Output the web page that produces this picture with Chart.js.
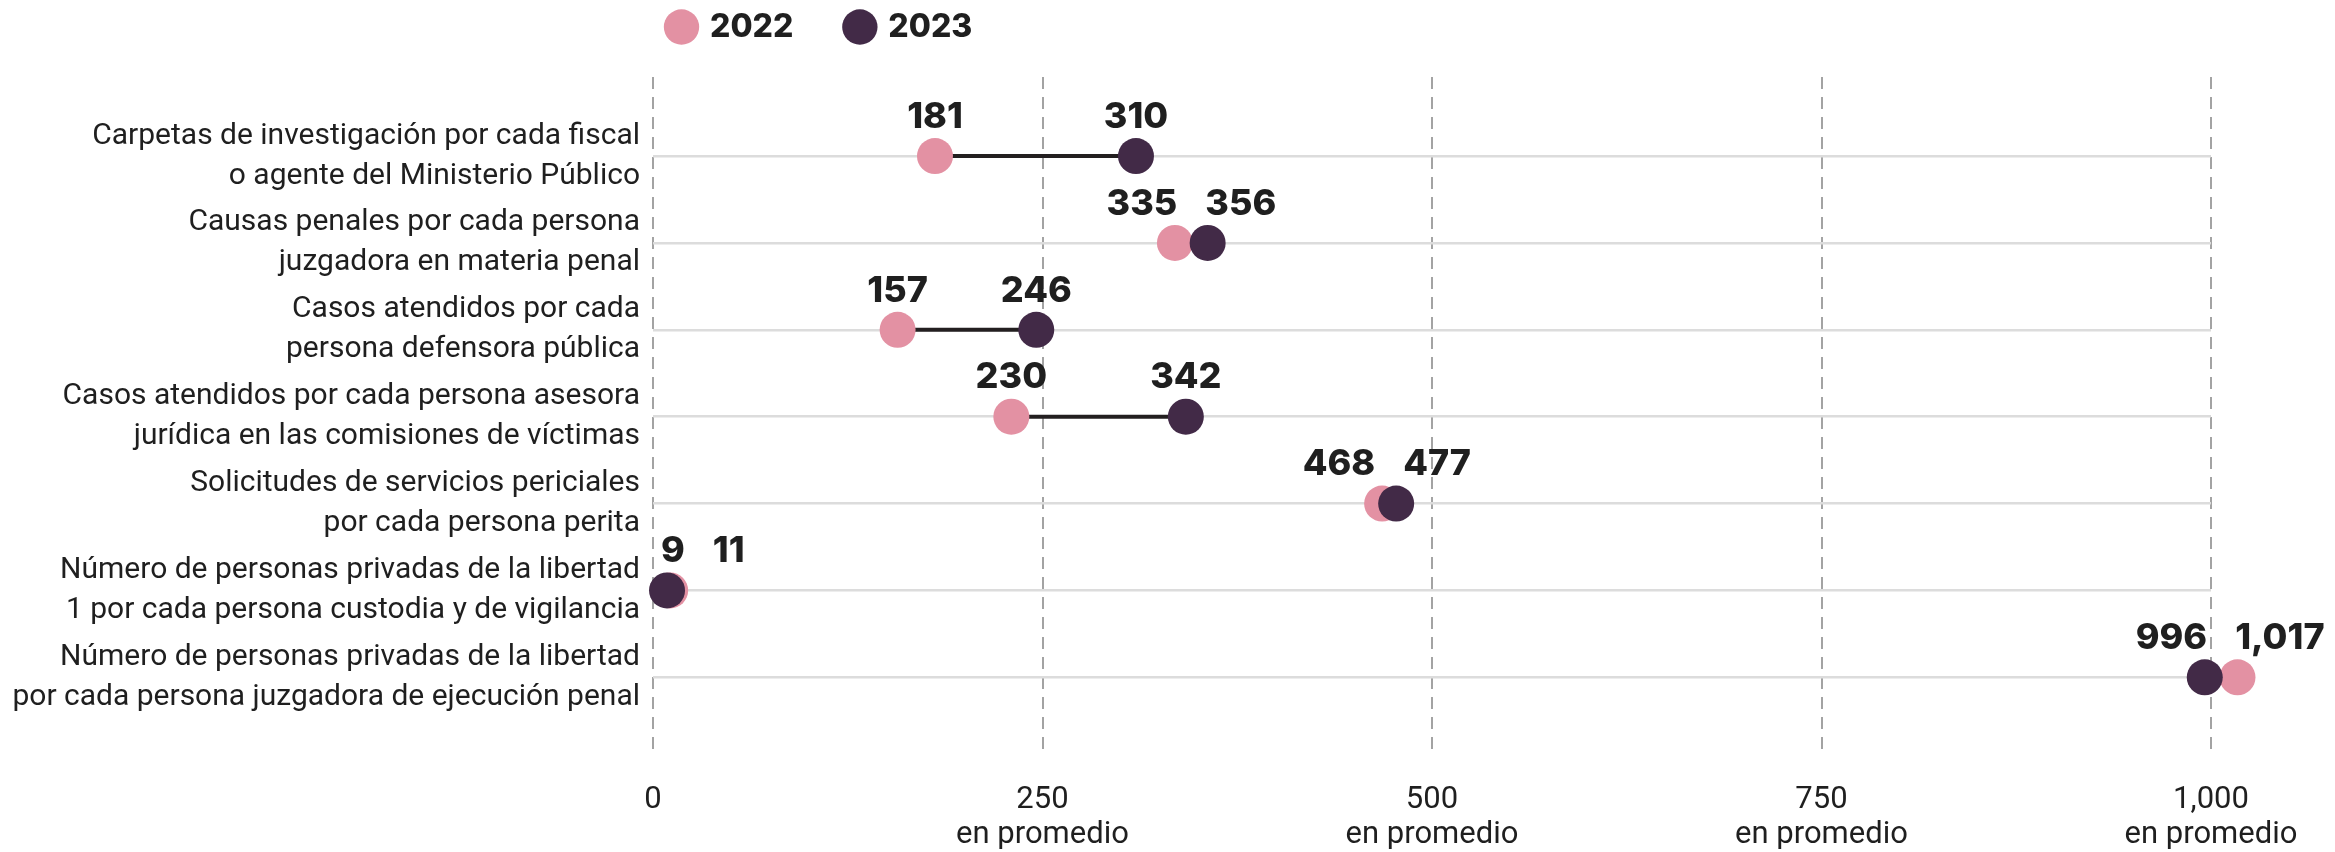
<!DOCTYPE html>
<html>
<head>
<meta charset="utf-8">
<script src="https://cdn.jsdelivr.net/npm/chart.js@4/dist/chart.umd.min.js"></script>
<style>
  body { margin: 0; background: #fff; }
  .wrap { width: 2335px; height: 852px; position: relative; }
</style>
</head>
<body>
<div class="wrap"><canvas id="dumbbellChart"></canvas></div>
<script>
// ---- data ----
const rowLabels = [
    ['Carpetas de investigación por cada fiscal', 'o agente del Ministerio Público'],
    ['Causas penales por cada persona', 'juzgadora en materia penal'],
    ['Casos atendidos por cada', 'persona defensora pública'],
    ['Casos atendidos por cada persona asesora', 'jurídica en las comisiones de víctimas'],
    ['Solicitudes de servicios periciales', 'por cada persona perita'],
    ['Número de personas privadas de la libertad', '1 por cada persona custodia y de vigilancia'],
    ['Número de personas privadas de la libertad', 'por cada persona juzgadora de ejecución penal']
];
const values2022 = [181, 335, 157, 230, 468, 11, 1017];
const values2023 = [310, 356, 246, 342, 477, 9, 996];
const xTicks = [0, 250, 500, 750, 1000];
const xTickSuffix = 'en promedio';

const PINK = '#e391a3';
const PLUM = '#422a47';
const INK = '#1f1f1f';

function toPoints(arr) {
    return arr.map((v, i) => ({ x: v, y: i }));
}
function fmt(v) {
    return v.toLocaleString('en-US');
}

// line between the two years on each row
const connectorPlugin = {
    id: 'connectors',
    beforeDatasetsDraw(chart) {
        const a = chart.getDatasetMeta(0).data;
        const b = chart.getDatasetMeta(1).data;
        const ctx = chart.ctx;
        ctx.save();
        ctx.strokeStyle = '#231f20';
        ctx.lineWidth = 4;
        a.forEach((p, i) => {
            ctx.beginPath();
            ctx.moveTo(p.x, p.y);
            ctx.lineTo(b[i].x, b[i].y);
            ctx.stroke();
        });
        ctx.restore();
    }
};

// dots past 1,000 sit outside the plot area; widen it while the dots are drawn
const overflowPlugin = {
    id: 'overflow',
    beforeDatasetsDraw(chart) {
        this._area = chart.chartArea;
        chart.chartArea = Object.assign({}, this._area, { right: this._area.right + 80 });
    },
    afterDatasetsDraw(chart) {
        if (this._area) chart.chartArea = this._area;
    }
};

// value labels above the dots, pushed apart when they would overlap
const valueLabelPlugin = {
    id: 'valueLabels',
    afterDatasetsDraw(chart) {
        const ctx = chart.ctx;
        const m0 = chart.getDatasetMeta(0).data;
        const m1 = chart.getDatasetMeta(1).data;
        const gap = 28;
        ctx.save();
        ctx.font = '800 36px Inter';
        ctx.fillStyle = INK;
        ctx.textBaseline = 'middle';
        m0.forEach((p0, i) => {
            const p1 = m1[i];
            const items = [
                { x: p0.x, text: fmt(values2022[i]) },
                { x: p1.x, text: fmt(values2023[i]) }
            ].sort((u, v) => u.x - v.x);
            items.forEach(it => it.w = ctx.measureText(it.text).width);
            const lo = items[0], hi = items[1];
            const y = p0.y - 39;
            if (hi.x - lo.x >= (lo.w + hi.w) / 2 + gap) {
                ctx.textAlign = 'center';
                ctx.fillText(lo.text, lo.x, y);
                ctx.fillText(hi.text, hi.x, y);
            } else {
                const mid = (lo.x + hi.x) / 2;
                let loLeft = mid - gap / 2 - lo.w;
                const minLeft = chart.chartArea.left + 8;
                if (loLeft < minLeft) loLeft = minLeft;
                const hiLeft = loLeft + lo.w + gap;
                ctx.textAlign = 'left';
                ctx.fillText(lo.text, loLeft, y);
                ctx.fillText(hi.text, hiLeft, y);
            }
        });
        ctx.restore();
    }
};

// move the legend so it starts over the plot area
const legendPlacePlugin = {
    id: 'legendPlace',
    afterLayout(chart) {
        if (!chart.legend) return;
        chart.legend.left = chart.chartArea.left - 38;
        chart.legend.top = -43;
    }
};

const ctx = document.getElementById('dumbbellChart');

new Chart(ctx, {
    type: 'scatter',
    data: {
        datasets: [
            {
                label: '2022',
                data: toPoints(values2022),
                backgroundColor: PINK,
                borderWidth: 0,
                pointRadius: 18,
                pointHoverRadius: 18,
                clip: false,
                order: 2
            },
            {
                label: '2023',
                data: toPoints(values2023),
                backgroundColor: PLUM,
                borderWidth: 0,
                pointRadius: 18,
                pointHoverRadius: 18,
                clip: false,
                order: 1
            }
        ]
    },
    options: {
        responsive: true,
        maintainAspectRatio: false,
        animation: false,
        layout: { padding: { top: 5, right: 124, bottom: 0, left: 0 } },
        plugins: {
            tooltip: { enabled: false },
            legend: {
                position: 'top',
                align: 'start',
                maxHeight: 72,
                labels: {
                    usePointStyle: true,
                    pointStyle: 'circle',
                    boxWidth: 25,
                    boxHeight: 25,
                    padding: 54,
                    color: INK,
                    font: { family: 'Inter', size: 32, weight: '800' },
                    sort: (a, b) => a.datasetIndex - b.datasetIndex
                }
            }
        },
        scales: {
            x: {
                type: 'linear',
                min: 0,
                max: 1000,
                afterBuildTicks: scale => {
                    scale.ticks = xTicks.map(v => ({ value: v }));
                },
                afterFit: scale => { scale.height = 100; },
                ticks: {
                    padding: 30,
                    color: INK,
                    font: { family: 'Roboto', size: 31, lineHeight: 1.15 },
                    callback: v => v === 0 ? '0' : [fmt(v), xTickSuffix]
                },
                grid: {
                    color: '#a3a3a3',
                    lineWidth: 2,
                    drawTicks: false
                },
                border: { display: false, dash: [12, 8] }
            },
            y: {
                type: 'linear',
                reverse: true,
                min: -0.91,
                max: 6.86,
                afterBuildTicks: scale => {
                    scale.ticks = rowLabels.map((_, i) => ({ value: i }));
                },
                afterFit: scale => { scale.width = 653; },
                ticks: {
                    padding: 13,
                    color: INK,
                    font: { family: 'Roboto', size: 30, lineHeight: 1.33 },
                    callback: v => rowLabels[v]
                },
                grid: {
                    color: '#dcdcdc',
                    lineWidth: 2.5,
                    drawTicks: false
                },
                border: { display: false }
            }
        }
    },
    plugins: [connectorPlugin, overflowPlugin, valueLabelPlugin, legendPlacePlugin]
});
</script>
</body>
</html>
